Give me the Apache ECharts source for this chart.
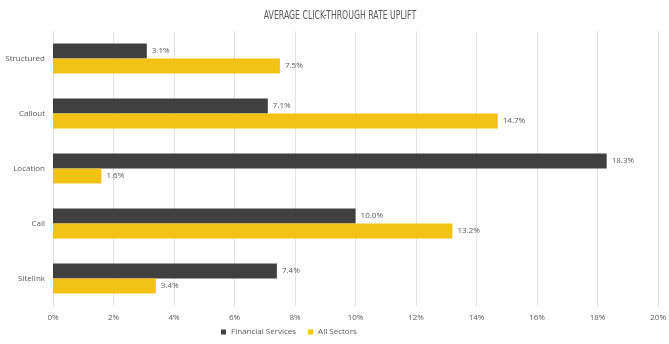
<!DOCTYPE html>
<html><head><meta charset="utf-8">
<script src="https://cdn.jsdelivr.net/npm/echarts@6/dist/echarts.min.js"></script>
<style>html,body{margin:0;padding:0;background:#fff}#c{width:669px;height:344px}</style>
</head><body><div id="c"></div>
<script>
const categories = ['Sitelink', 'Call', 'Location', 'Callout', 'Structured'];
const financialServices = [7.4, 10.0, 18.3, 7.1, 3.1];
const allSectors = [3.4, 13.2, 1.6, 14.7, 7.5];
const titleText = 'AVERAGE CLICK-THROUGH RATE UPLIFT';

const chart = echarts.init(document.getElementById('c'));
const lbl = {show: true, position: 'right', formatter: p => p.value.toFixed(1) + '%', fontSize: 8, color: '#595959', fontFamily: 'Open Sans', distance: 5};
chart.setOption({
  animation: false,
  graphic: [{type: 'text', x: 340, y: 16, scaleX: 0.72, scaleY: 1,
    style: {text: titleText, fill: '#595959', font: '12px "DejaVu Sans Condensed", "DejaVu Sans"', align: 'center', verticalAlign: 'middle'}}],
  legend: {data: ['Financial Services', 'All Sectors'], bottom: 3, left: 216, itemWidth: 5, itemHeight: 5, itemGap: 12, icon: 'rect',
    textStyle: {fontSize: 8, color: '#595959', fontFamily: 'Open Sans'}},
  grid: {left: 53, right: 8, top: 31, bottom: 38},
  xAxis: {type: 'value', min: 0, max: 20, interval: 2,
    axisLabel: {formatter: v => v + '%', fontSize: 8, color: '#595959', fontFamily: 'Open Sans', margin: 8},
    axisLine: {show: false}, axisTick: {show: false},
    splitLine: {lineStyle: {color: '#e3e3e3'}}},
  yAxis: {type: 'category', data: categories,
    axisLabel: {fontSize: 8, color: '#595959', fontFamily: 'Open Sans', margin: 8},
    axisLine: {show: false}, axisTick: {show: false}},
  series: [
    {name: 'Financial Services', type: 'bar', data: financialServices, barWidth: 15, barGap: '0%', itemStyle: {color: '#404040'}, label: lbl},
    {name: 'All Sectors', type: 'bar', data: allSectors, barWidth: 15, barGap: '0%', itemStyle: {color: '#F2C314'}, label: lbl}
  ]
});
</script></body></html>
